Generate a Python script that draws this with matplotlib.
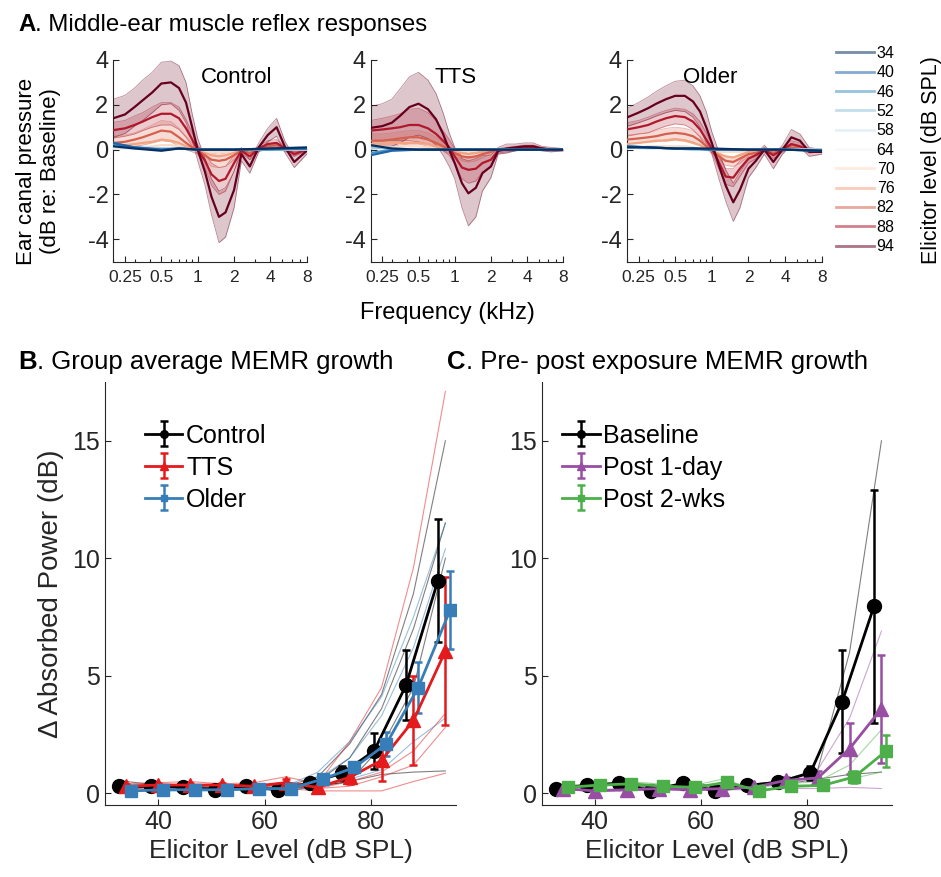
import numpy as np
import matplotlib.pyplot as plt
from matplotlib.lines import Line2D
from matplotlib.ticker import FixedLocator, LogLocator, NullFormatter

plt.rcParams['font.family'] = ['Liberation Sans', 'DejaVu Sans']
plt.rcParams['axes.unicode_minus'] = False
INK = '#262626'

# ---------------- data ----------------
levels = [34, 40, 46, 52, 58, 64, 70, 76, 82, 88, 94]

# frequency grids for the reflex curves (kHz)
freq = [0.2, 0.25, 0.3, 0.35, 0.42, 0.5, 0.6, 0.7, 0.8, 0.9, 1.0, 1.15,
        1.3, 1.5, 1.7, 2.0, 2.3, 2.7, 3.2, 3.8, 4.5, 5.3, 6.3, 8.0]
freq_low = [0.2, 0.3, 0.5, 0.7, 1.0, 2.0, 4.0, 8.0]

# Control group: mean pressure change for the higher elicitor levels
ctl_mean = {
    94: [1.4, 1.57, 1.9, 2.2, 2.55, 2.95, 3.0, 2.75, 2.1, 1.0, 0.0, -1.0,
         -2.1, -3.0, -2.8, -1.8, -0.2, -0.75, 0.1, 0.65, 1.0, 0.1, -0.55, -0.05],
    88: [0.87, 0.95, 1.1, 1.25, 1.45, 1.6, 1.6, 1.4, 0.95, 0.45, 0.0, -0.5,
         -1.1, -1.4, -1.3, -0.6, -0.05, -0.3, 0.05, 0.25, 0.3, 0.05, -0.2, 0.0],
    82: [0.3, 0.35, 0.45, 0.55, 0.7, 0.85, 0.8, 0.55, 0.3, 0.1, -0.05, -0.25,
         -0.45, -0.5, -0.45, -0.25, -0.05, -0.15, 0.0, 0.15, 0.2, 0.0, -0.1, 0.0],
    76: [0.15, 0.2, 0.25, 0.3, 0.35, 0.45, 0.4, 0.3, 0.15, 0.05, -0.05, -0.15,
         -0.25, -0.3, -0.25, -0.15, 0.0, -0.05, 0.0, 0.05, 0.1, 0.0, -0.05, 0.0],
    70: [0.05, 0.05, 0.1, 0.1, 0.15, 0.2, 0.2, 0.15, 0.1, 0.0, -0.05, -0.1,
         -0.1, -0.1, -0.1, -0.05, 0.0, 0.0, 0.0, 0.0, 0.05, 0.0, 0.0, 0.0],
}
ctl_sd = {
    94: [0.85, 0.85, 0.85, 0.9, 0.9, 0.95, 0.95, 1.0, 0.9, 0.6, 0.5, 0.6,
         0.8, 1.15, 1.1, 0.8, 0.3, 0.3, 0.2, 0.3, 0.4, 0.25, 0.25, 0.15],
    88: [0.35, 0.35, 0.4, 0.4, 0.45, 0.5, 0.5, 0.5, 0.4, 0.3, 0.2, 0.3,
         0.5, 0.6, 0.55, 0.35, 0.1, 0.15, 0.1, 0.15, 0.15, 0.1, 0.1, 0.05],
    82: [0.3, 0.3, 0.3, 0.35, 0.4, 0.45, 0.45, 0.4, 0.3, 0.2, 0.15, 0.25,
         0.3, 0.3, 0.3, 0.2, 0.1, 0.1, 0.1, 0.1, 0.1, 0.1, 0.05, 0.05],
}
ctl_low = {
    64: [0.05, 0.05, 0.05, 0.05, 0.0, 0.0, 0.0, 0.0],
    58: [0.1, 0.05, 0.05, 0.05, 0.0, 0.0, 0.0, 0.0],
    52: [0.2, 0.1, 0.05, 0.05, 0.0, 0.0, 0.0, 0.0],
    46: [0.25, 0.1, 0.0, 0.05, 0.0, 0.0, 0.0, 0.05],
    40: [0.3, 0.1, 0.0, 0.05, 0.0, 0.0, 0.05, 0.05],
    34: [0.15, 0.05, -0.05, 0.05, 0.0, 0.0, 0.05, 0.1],
}

# TTS group
tts_mean = {
    94: [0.97, 1.05, 1.2, 1.5, 1.9, 2.05, 1.8, 1.35, 0.7, 0.0, -0.6, -1.5,
         -1.95, -1.7, -1.05, -0.75, -0.05, 0.05, 0.1, 0.15, 0.15, 0.05, 0.0, 0.0],
    88: [0.85, 0.9, 0.95, 1.0, 1.1, 1.1, 0.95, 0.7, 0.4, 0.1, -0.3, -0.8,
         -0.9, -0.85, -0.6, -0.45, -0.05, 0.0, 0.05, 0.1, 0.1, 0.05, 0.0, 0.0],
    82: [0.4, 0.4, 0.45, 0.5, 0.55, 0.55, 0.45, 0.3, 0.15, 0.0, -0.15, -0.3,
         -0.35, -0.3, -0.2, -0.1, 0.0, 0.0, 0.0, 0.05, 0.05, 0.0, 0.0, 0.0],
    76: [0.25, 0.25, 0.3, 0.3, 0.3, 0.3, 0.25, 0.15, 0.05, -0.05, -0.1, -0.15,
         -0.2, -0.15, -0.1, -0.05, 0.0, 0.0, 0.0, 0.0, 0.0, 0.0, 0.0, 0.0],
    70: [0.1, 0.1, 0.1, 0.15, 0.15, 0.15, 0.1, 0.05, 0.0, 0.0, -0.05, -0.05,
         -0.05, -0.05, 0.0, 0.0, 0.0, 0.0, 0.0, 0.0, 0.0, 0.0, 0.0, 0.0],
}
tts_sd = {
    94: [0.95, 1.0, 1.05, 1.2, 1.35, 1.4, 1.3, 1.15, 0.95, 0.75, 0.7, 1.1,
         1.45, 1.3, 0.8, 0.5, 0.15, 0.2, 0.15, 0.15, 0.15, 0.1, 0.1, 0.05],
    88: [0.45, 0.5, 0.55, 0.6, 0.7, 0.75, 0.7, 0.6, 0.45, 0.35, 0.35, 0.5,
         0.6, 0.55, 0.4, 0.3, 0.1, 0.1, 0.1, 0.1, 0.1, 0.05, 0.05, 0.05],
    82: [0.3, 0.3, 0.3, 0.3, 0.3, 0.3, 0.3, 0.25, 0.2, 0.15, 0.15, 0.2,
         0.2, 0.2, 0.15, 0.1, 0.05, 0.05, 0.05, 0.05, 0.05, 0.05, 0.05, 0.05],
}
tts_low = {
    64: [0.05, 0.05, 0.0, 0.0, 0.0, 0.0, 0.0, 0.0],
    58: [0.1, 0.05, 0.0, 0.0, 0.0, 0.0, 0.0, 0.0],
    52: [0.1, 0.05, 0.0, 0.0, 0.0, 0.0, 0.0, 0.0],
    46: [-0.15, 0.0, 0.0, 0.0, 0.0, 0.0, 0.0, 0.0],
    40: [-0.25, -0.05, 0.0, 0.0, 0.0, 0.0, 0.0, 0.0],
    34: [0.2, 0.05, 0.0, 0.0, 0.0, 0.0, 0.0, 0.0],
}

# Older group
old_mean = {
    94: [1.43, 1.65, 1.85, 2.05, 2.25, 2.4, 2.4, 2.15, 1.7, 1.0, 0.3, -0.75,
         -1.6, -2.35, -1.8, -0.85, -0.5, 0.0, -0.55, 0.0, 0.55, 0.4, -0.1, -0.1],
    88: [0.9, 1.0, 1.1, 1.25, 1.4, 1.5, 1.45, 1.25, 0.9, 0.45, 0.05, -0.6,
         -1.2, -1.25, -0.85, -0.4, -0.25, 0.0, -0.25, 0.0, 0.25, 0.15, -0.05, -0.05],
    82: [0.45, 0.5, 0.55, 0.6, 0.7, 0.75, 0.7, 0.6, 0.4, 0.15, -0.05, -0.3,
         -0.5, -0.55, -0.4, -0.2, -0.15, 0.0, -0.15, 0.0, 0.1, 0.05, 0.0, 0.0],
    76: [0.25, 0.3, 0.35, 0.4, 0.4, 0.45, 0.4, 0.3, 0.2, 0.05, -0.05, -0.2,
         -0.3, -0.35, -0.25, -0.1, -0.05, 0.0, -0.05, 0.0, 0.05, 0.0, 0.0, 0.0],
    70: [0.1, 0.1, 0.15, 0.15, 0.15, 0.15, 0.15, 0.1, 0.05, 0.0, -0.05, -0.1,
         -0.1, -0.1, -0.1, -0.05, 0.0, 0.0, 0.0, 0.0, 0.0, 0.0, 0.0, 0.0],
}
old_sd = {
    94: [0.4, 0.45, 0.5, 0.55, 0.6, 0.65, 0.7, 0.7, 0.7, 0.7, 0.5, 0.6,
         0.7, 0.85, 0.8, 0.4, 0.3, 0.2, 0.3, 0.2, 0.35, 0.3, 0.2, 0.1],
    88: [0.3, 0.3, 0.35, 0.35, 0.35, 0.35, 0.35, 0.35, 0.35, 0.3, 0.2, 0.3,
         0.35, 0.4, 0.35, 0.2, 0.15, 0.1, 0.15, 0.1, 0.15, 0.15, 0.1, 0.05],
    82: [0.2, 0.2, 0.2, 0.25, 0.25, 0.25, 0.25, 0.25, 0.2, 0.15, 0.1, 0.15,
         0.2, 0.2, 0.2, 0.1, 0.1, 0.05, 0.1, 0.05, 0.1, 0.05, 0.05, 0.05],
}
old_low = {
    64: [0.05, 0.05, 0.05, 0.0, 0.0, 0.0, 0.0, 0.0],
    58: [0.1, 0.05, 0.05, 0.0, 0.0, 0.0, 0.0, 0.0],
    52: [0.1, 0.1, 0.05, 0.0, 0.0, 0.0, 0.0, 0.0],
    46: [0.15, 0.1, 0.05, 0.05, 0.0, 0.0, 0.0, -0.05],
    40: [0.15, 0.1, 0.05, 0.05, 0.0, 0.0, 0.0, -0.05],
    34: [0.1, 0.1, 0.05, 0.05, 0.05, 0.0, 0.0, -0.05],
}

# Group average growth (panel B)
ctl_growth = [0.3, 0.3, 0.25, 0.15, 0.3, 0.15, 0.45, 0.85, 1.8, 4.6, 9.05]
ctl_err = [0.1, 0.1, 0.1, 0.1, 0.1, 0.1, 0.15, 0.3, 0.75, 1.5, 2.6]
tts_growth = [0.3, 0.35, 0.35, 0.35, 0.3, 0.45, 0.25, 0.68, 1.4, 3.1, 6.05]
tts_err = [0.1, 0.1, 0.1, 0.1, 0.1, 0.15, 0.15, 0.3, 0.9, 1.9, 3.15]
old_growth = [0.1, 0.15, 0.15, 0.15, 0.2, 0.2, 0.6, 1.1, 2.1, 4.5, 7.8]
old_err = [0.05, 0.05, 0.05, 0.05, 0.05, 0.1, 0.15, 0.25, 0.5, 1.1, 1.65]

ctl_indiv = [
    [0.5, 0.35, 0.3, 0.25, 0.4, 0.3, 0.7, 2.1, 4.2, 8.5, 15.0],
    [0.3, 0.3, 0.2, 0.25, 0.3, 0.2, 0.5, 1.5, 3.6, 7.0, 11.5],
    [0.2, 0.25, 0.3, 0.2, 0.2, 0.1, 0.3, 0.5, 2.0, 4.5, 10.0],
    [0.2, 0.3, 0.25, 0.15, 0.3, 0.2, 0.3, 0.5, 0.8, 0.9, 0.95],
]
tts_indiv = [
    [0.4, 0.45, 0.5, 0.4, 0.45, 0.7, 0.4, 2.2, 4.5, 9.6, 17.1],
    [0.3, 0.4, 0.35, 0.4, 0.3, 0.4, 0.2, 0.5, 0.9, 1.8, 3.4],
    [0.3, 0.3, 0.35, 0.3, 0.3, 0.3, 0.2, 0.3, 0.7, 1.2, 2.8],
    [0.2, 0.25, 0.2, 0.2, 0.2, 0.2, 0.1, 0.1, 0.1, 0.5, 0.85],
]
old_indiv = [
    [0.1, 0.15, 0.1, 0.2, 0.2, 0.3, 0.9, 2.2, 4.1, 7.5, 11.5],
    [0.1, 0.1, 0.15, 0.1, 0.2, 0.2, 0.6, 1.5, 3.3, 6.2, 10.4],
    [0.1, 0.1, 0.1, 0.1, 0.15, 0.1, 0.3, 0.6, 1.0, 2.2, 3.2],
]

# Pre/post exposure growth (panel C)
base_growth = [0.2, 0.33, 0.43, 0.1, 0.43, 0.1, 0.33, 0.47, 0.87, 3.9, 7.96]
base_err = [0.1, 0.1, 0.1, 0.1, 0.1, 0.1, 0.1, 0.15, 0.3, 2.2, 4.95]
day1_growth = [0.2, 0.1, 0.15, 0.2, 0.15, 0.2, 0.25, 0.55, 0.65, 1.9, 3.6]
day1_err = [0.05, 0.05, 0.05, 0.05, 0.05, 0.05, 0.1, 0.15, 0.3, 1.1, 2.3]
wk2_growth = [0.25, 0.35, 0.4, 0.3, 0.25, 0.47, 0.1, 0.3, 0.33, 0.7, 1.8]
wk2_err = [0.05, 0.05, 0.05, 0.05, 0.05, 0.05, 0.05, 0.1, 0.15, 0.25, 0.7]

base_indiv = [
    [0.3, 0.4, 0.4, 0.2, 0.5, 0.2, 0.4, 0.5, 1.0, 6.0, 15.0],
    [0.2, 0.3, 0.4, 0.1, 0.4, 0.1, 0.3, 0.4, 0.6, 0.8, 0.9],
]
day1_indiv = [
    [0.2, 0.15, 0.2, 0.25, 0.2, 0.3, 0.35, 0.6, 1.0, 3.2, 6.9],
    [0.15, 0.1, 0.1, 0.15, 0.1, 0.15, 0.15, 0.2, 0.2, 0.25, 0.2],
]
wk2_indiv = [
    [0.3, 0.4, 0.5, 0.4, 0.3, 0.6, 0.2, 0.4, 0.5, 1.2, 2.7],
    [0.2, 0.3, 0.35, 0.25, 0.2, 0.35, 0.1, 0.25, 0.3, 0.6, 0.9],
]

# ---------------- figure ----------------
fig = plt.figure(figsize=(9.41, 8.77), dpi=100)

cmap = plt.get_cmap('RdBu_r')
lvl_color = {lv: cmap(i / 10) for i, lv in enumerate(levels)}


def style_axes(ax, size):
    for side in ('top', 'right'):
        ax.spines[side].set_visible(False)
    for side in ('left', 'bottom'):
        ax.spines[side].set_color(INK)
        ax.spines[side].set_linewidth(0.8)
    ax.tick_params(which='both', direction='in', colors=INK, labelsize=size, width=0.8)
    ax.tick_params(which='major', length=4)
    ax.tick_params(which='minor', length=2.5)


def reflex_panel(ax, mean, sd, low, label, label_x):
    # shaded spread for the loudest elicitors
    for lv in (94, 88, 82):
        m = np.array(mean[lv])
        s = np.array(sd[lv])
        c = lvl_color[lv]
        ax.fill_between(freq, m - s, m + s, color=c, alpha=0.22, lw=0)
        ax.plot(freq, m + s, color=c, lw=0.6, alpha=0.45)
        ax.plot(freq, m - s, color=c, lw=0.6, alpha=0.45)
    for lv in (70, 76, 82, 88, 94):
        ax.plot(freq, mean[lv], color=lvl_color[lv], lw=1.6, zorder=3)
    for lv in (64, 58, 52, 46, 40, 34):
        ax.plot(freq_low, low[lv], color=lvl_color[lv], lw=1.6, zorder=4)
    ax.set_xscale('log')
    ax.set_xlim(0.2, 8)
    ax.set_ylim(-5, 4)
    ax.xaxis.set_major_locator(FixedLocator([0.25, 0.5, 1, 2, 4, 8]))
    ax.xaxis.set_minor_locator(LogLocator(base=10, subs=np.arange(1, 10)))
    ax.xaxis.set_minor_formatter(NullFormatter())
    ax.set_xticklabels(['0.25', '0.5', '1', '2', '4', '8'])
    ax.set_yticks([-4, -2, 0, 2, 4])
    style_axes(ax, 17)
    ax.tick_params(axis='x', labelsize=12.5, pad=6)
    ax.text(label_x, 0.915, label, transform=ax.transAxes, ha='center',
            va='center', fontsize=16, color='black')


ax_c = fig.add_axes([0.1204, 0.7016, 0.2056, 0.230])
ax_t = fig.add_axes([0.3939, 0.7016, 0.2047, 0.230])
ax_o = fig.add_axes([0.6660, 0.7016, 0.2073, 0.230])
reflex_panel(ax_c, ctl_mean, ctl_sd, ctl_low, 'Control', 0.64)
reflex_panel(ax_t, tts_mean, tts_sd, tts_low, 'TTS', 0.44)
reflex_panel(ax_o, old_mean, old_sd, old_low, 'Older', 0.43)

fig.text(0.041, 0.805, 'Ear canal pressure\n(dB re: Baseline)', rotation=90,
         ha='center', va='center', fontsize=16, linespacing=1.15)
fig.text(0.476, 0.643, 'Frequency (kHz)', ha='center', va='center', fontsize=17)

# elicitor level key
lvl_handles = [Line2D([], [], color=lvl_color[lv], lw=2, alpha=0.55) for lv in levels]
fig.legend(lvl_handles, [str(lv) for lv in levels], loc='upper left',
           bbox_to_anchor=(836 / 941, 1 - 46 / 877), frameon=False, fontsize=11.5,
           handlelength=2.4, handletextpad=0.15, labelspacing=0.27,
           borderaxespad=0, borderpad=0)
fig.text(931 / 941, 1 - 160 / 877, 'Elicitor level (dB SPL)', rotation=90,
         ha='center', va='center', fontsize=15.5)


def panel_title(x, y, letter, text, size):
    t = fig.text(x, y, letter, fontsize=size, fontweight='bold', va='baseline')
    plt.annotate(text, xy=(1, 0), xycoords=t, va='bottom', fontsize=size)


panel_title(18 / 941, 1 - 31 / 877, 'A', '. Middle-ear muscle reflex responses', 17.3)
panel_title(18 / 941, 1 - 369 / 877, 'B', '. Group average MEMR growth', 18.5)
panel_title(447 / 941, 1 - 369 / 877, 'C', '. Pre- post exposure MEMR growth', 18.5)


def growth_panel(ax, series, legend_anchor):
    for name, mean, err, indiv, color, marker, ms, dx in series:
        for row in indiv:
            ax.plot(levels, row, color=color, lw=0.8, alpha=0.5, zorder=1)
    for name, mean, err, indiv, color, marker, ms, dx in series:
        ax.errorbar(np.array(levels) + dx, mean, yerr=err, color=color,
                    marker=marker, ms=ms, lw=2, elinewidth=1.8, capsize=3,
                    capthick=1.8, label=name, zorder=3)
    ax.set_xlim(30, 96)
    ax.set_ylim(-0.5, 17.5)
    ax.set_xticks([40, 60, 80])
    ax.set_yticks([0, 5, 10, 15])
    style_axes(ax, 18)
    ax.set_xlabel('Elicitor Level (dB SPL)', fontsize=19, color=INK, labelpad=4)
    ax.legend(loc='upper left', bbox_to_anchor=legend_anchor, frameon=False,
              fontsize=18, markerscale=0.55, handlelength=1.5,
              handletextpad=0.15, labelspacing=0.32, borderaxespad=0)


ax_b = fig.add_axes([0.1116, 0.0821, 0.373, 0.4823])
growth_panel(ax_b, [
    ('Control', ctl_growth, ctl_err, ctl_indiv, 'black', 'o', 10, -1.4),
    ('TTS', tts_growth, tts_err, tts_indiv, '#e41a1c', '^', 10, 0.0),
    ('Older', old_growth, old_err, old_indiv, '#377eb8', 's', 8.5, 0.9),
], (0.085, 0.925))
ax_b.set_ylabel('\u0394 Absorbed Power (dB)', fontsize=20, color=INK, labelpad=6)

ax_cc = fig.add_axes([0.5757, 0.0821, 0.3723, 0.4823])
growth_panel(ax_cc, [
    ('Baseline', base_growth, base_err, base_indiv, 'black', 'o', 10, -1.4),
    ('Post 1-day', day1_growth, day1_err, day1_indiv, '#984ea3', '^', 10, 0.0),
    ('Post 2-wks', wk2_growth, wk2_err, wk2_indiv, '#4daf4a', 's', 8.5, 0.9),
], (0.03, 0.925))

fig.savefig('out.png', dpi=100)
